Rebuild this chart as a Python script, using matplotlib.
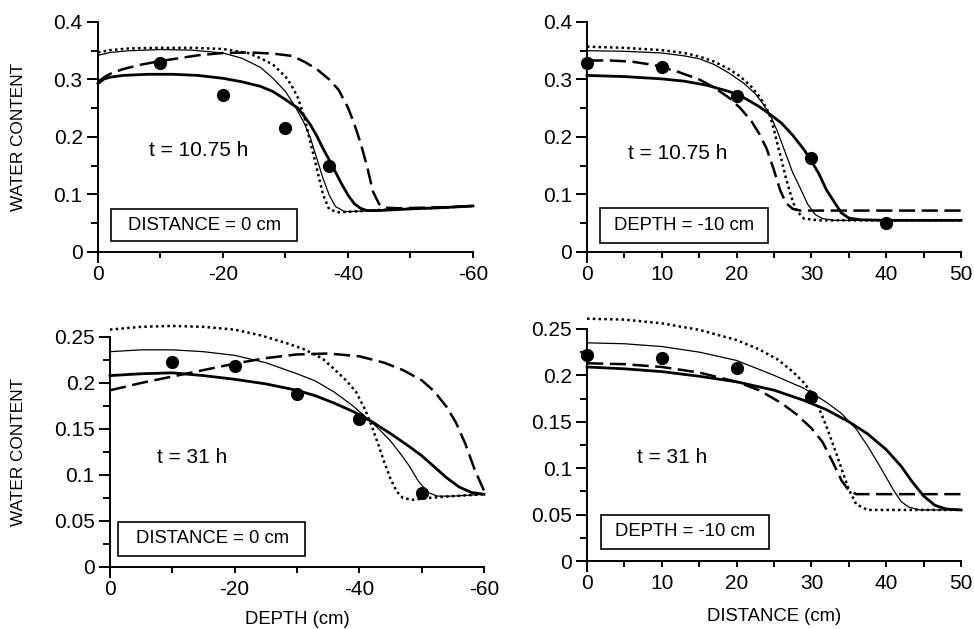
import matplotlib
matplotlib.use("Agg")
import matplotlib.pyplot as plt
from matplotlib.patches import Rectangle

plt.rcParams['font.family'] = ['Liberation Sans', 'DejaVu Sans']
plt.rcParams['axes.unicode_minus'] = False

# ---- top left: t = 10.75 h, DISTANCE = 0 cm (x = depth) ----
tl_obs_x = [-10, -20, -30, -37]
tl_obs_y = [0.328, 0.273, 0.215, 0.150]

tl_thick_x = [0, -1, -2, -4, -8, -12, -16, -20, -23, -26, -28, -30, -32, -33, -34, -35,
              -36, -37, -38, -39, -40, -41, -42, -43, -45, -50, -55, -60]
tl_thick_y = [0.293, 0.301, 0.304, 0.307, 0.309, 0.309, 0.307, 0.302, 0.296, 0.288, 0.279,
              0.265, 0.250, 0.236, 0.221, 0.202, 0.180, 0.160, 0.139, 0.118, 0.099, 0.084,
              0.076, 0.072, 0.072, 0.075, 0.077, 0.080]

tl_thin_x = [0, -2, -5, -10, -15, -20, -23, -26, -28, -30, -31.5, -33, -34, -35, -36, -37,
             -38, -39.5, -42, -45, -50, -55, -60]
tl_thin_y = [0.342, 0.347, 0.350, 0.352, 0.351, 0.346, 0.337, 0.321, 0.302, 0.279, 0.254,
             0.224, 0.198, 0.163, 0.128, 0.099, 0.079, 0.070, 0.071, 0.073, 0.075, 0.077, 0.080]

tl_dot_x = [0, -2, -5, -10, -15, -20, -24, -26, -28, -30, -31, -32, -33, -34, -35, -36, -37,
            -38.5, -42, -45, -50, -55, -60]
tl_dot_y = [0.347, 0.351, 0.354, 0.355, 0.355, 0.353, 0.346, 0.337, 0.326, 0.305, 0.289,
            0.268, 0.235, 0.190, 0.146, 0.100, 0.074, 0.069, 0.071, 0.073, 0.075, 0.077, 0.080]

tl_dash_x = [0, -1, -2, -4, -7, -10, -13, -16, -20, -24, -28, -31, -33, -35, -37, -38.5, -40,
             -41, -42, -43, -44, -45, -46, -48, -52, -56, -60]
tl_dash_y = [0.296, 0.304, 0.310, 0.318, 0.326, 0.332, 0.337, 0.342, 0.346, 0.347, 0.345,
             0.341, 0.331, 0.318, 0.300, 0.282, 0.251, 0.223, 0.190, 0.151, 0.105, 0.083,
             0.077, 0.076, 0.077, 0.078, 0.080]

# ---- top right: t = 10.75 h, DEPTH = -10 cm (x = distance) ----
tr_obs_x = [0, 10, 20, 30, 40]
tr_obs_y = [0.328, 0.321, 0.272, 0.163, 0.050]

tr_thick_x = [0, 5, 10, 13, 16, 19, 21, 23, 24.5, 26, 27.5, 29, 30, 31, 32, 33, 34, 35,
              36.5, 40, 45, 50]
tr_thick_y = [0.307, 0.305, 0.301, 0.297, 0.290, 0.279, 0.268, 0.253, 0.239, 0.224, 0.203,
              0.178, 0.158, 0.136, 0.108, 0.088, 0.068, 0.059, 0.056, 0.055, 0.055, 0.055]

tr_thin_x = [0, 5, 10, 13, 15, 17, 19, 21, 22.5, 23.5, 24.5, 25.5, 26.5, 27.5, 28.5, 29.5,
             30.5, 31.5, 33, 40, 50]
tr_thin_y = [0.350, 0.349, 0.346, 0.341, 0.336, 0.326, 0.311, 0.293, 0.275, 0.258, 0.238,
             0.208, 0.173, 0.138, 0.111, 0.083, 0.065, 0.058, 0.055, 0.055, 0.055]

tr_dot_x = [0, 5, 10, 13, 15, 17, 19, 20.5, 22, 23, 24, 24.5, 25, 25.5, 26, 26.5, 27, 27.5,
            28, 29, 31, 40, 50]
tr_dot_y = [0.357, 0.355, 0.351, 0.346, 0.340, 0.331, 0.318, 0.305, 0.287, 0.271, 0.250,
            0.235, 0.212, 0.185, 0.160, 0.133, 0.110, 0.088, 0.072, 0.058, 0.055, 0.055, 0.055]

tr_dash_x = [0, 3, 6, 9, 12, 15, 17, 19, 20.5, 22, 23, 24, 25, 25.8, 26.6, 27.5, 28.5, 35, 50]
tr_dash_y = [0.333, 0.333, 0.331, 0.325, 0.314, 0.300, 0.286, 0.268, 0.250, 0.227, 0.206,
             0.180, 0.142, 0.108, 0.085, 0.075, 0.072, 0.072, 0.072]

# ---- bottom left: t = 31 h, DISTANCE = 0 cm ----
bl_obs_x = [-10, -20, -30, -40, -50]
bl_obs_y = [0.2225, 0.218, 0.188, 0.161, 0.080]

bl_thick_x = [0, -5, -10, -15, -20, -25, -30, -33, -36, -39, -42, -45, -48, -50, -52, -54,
              -56, -58, -60]
bl_thick_y = [0.208, 0.210, 0.211, 0.208, 0.204, 0.199, 0.192, 0.186, 0.178, 0.169, 0.158,
              0.145, 0.131, 0.121, 0.109, 0.097, 0.087, 0.081, 0.079]

bl_thin_x = [0, -5, -10, -15, -20, -25, -30, -33, -36, -39, -41, -43, -45, -46.5, -48, -49.5,
             -51, -52.5, -55, -60]
bl_thin_y = [0.234, 0.236, 0.236, 0.234, 0.230, 0.222, 0.210, 0.202, 0.190, 0.175, 0.163,
             0.151, 0.137, 0.124, 0.110, 0.093, 0.081, 0.077, 0.077, 0.079]

bl_dot_x = [0, -5, -10, -15, -20, -24, -28, -31, -34, -36, -38, -39.5, -41, -42, -43, -44,
            -45, -46, -47, -48.5, -51, -55, -60]
bl_dot_y = [0.258, 0.261, 0.262, 0.261, 0.258, 0.252, 0.244, 0.237, 0.227, 0.215, 0.202,
            0.190, 0.170, 0.153, 0.134, 0.114, 0.096, 0.082, 0.075, 0.073, 0.075, 0.077, 0.079]

bl_dash_x = [0, -5, -10, -15, -20, -25, -30, -35, -40, -44, -47, -50, -52, -54, -55.5, -57,
             -58.5, -60]
bl_dash_y = [0.192, 0.200, 0.207, 0.214, 0.221, 0.227, 0.231, 0.232, 0.229, 0.222, 0.214,
             0.203, 0.191, 0.174, 0.157, 0.134, 0.106, 0.083]

# ---- bottom right: t = 31 h, DEPTH = -10 cm ----
br_obs_x = [0, 10, 20, 30]
br_obs_y = [0.222, 0.219, 0.2076, 0.177]

br_thick_x = [0, 5, 10, 15, 20, 25, 29, 32, 35, 37.5, 40, 42, 43.5, 45, 46.5, 48, 50]
br_thick_y = [0.209, 0.207, 0.204, 0.199, 0.193, 0.184, 0.173, 0.163, 0.150, 0.137, 0.120,
              0.102, 0.085, 0.070, 0.060, 0.056, 0.055]

br_thin_x = [0, 5, 10, 15, 20, 25, 29, 32, 34, 36, 37.5, 39, 40, 41, 42, 43, 44.5, 50]
br_thin_y = [0.235, 0.234, 0.231, 0.225, 0.216, 0.200, 0.186, 0.171, 0.159, 0.142, 0.124,
             0.104, 0.090, 0.076, 0.064, 0.058, 0.055, 0.055]

br_dot_x = [0, 5, 10, 15, 20, 23, 25.5, 27.5, 29, 30, 31, 32, 33, 34, 35, 36, 37.5, 40, 50]
br_dot_y = [0.261, 0.260, 0.256, 0.249, 0.238, 0.228, 0.217, 0.204, 0.192, 0.181, 0.165,
            0.145, 0.123, 0.100, 0.077, 0.061, 0.055, 0.055, 0.055]

br_dash_x = [0, 5, 10, 15, 20, 23, 26, 28, 30, 31.5, 33, 34, 35, 36, 40, 50]
br_dash_y = [0.213, 0.212, 0.209, 0.203, 0.193, 0.184, 0.170, 0.158, 0.143, 0.128, 0.104,
             0.087, 0.076, 0.072, 0.072, 0.072]

depth_ticks = [0, -10, -20, -30, -40, -50, -60]
depth_labels = ['0', '', '-20', '', '-40', '', '-60']
dist_ticks = [0, 5, 10, 15, 20, 25, 30, 35, 40, 45, 50]
dist_labels = ['0', '', '10', '', '20', '', '30', '', '40', '', '50']
top_yticks = [0, 0.1, 0.2, 0.3, 0.4]
top_ylabels = ['0', '0.1', '0.2', '0.3', '0.4']
bot_yticks = [0, 0.05, 0.1, 0.15, 0.2, 0.25]
bot_ylabels = ['0', '0.05', '0.1', '0.15', '0.2', '0.25']


def draw_panel(ax, obs, thick, thin, dot, dash):
    ax.plot(*thick, color='black', lw=2.0, clip_on=False)
    ax.plot(*thin, color='black', lw=0.9, clip_on=False)
    ax.plot(*dot, color='black', lw=1.8, linestyle=(0, (1, 1.3)), clip_on=False)
    ax.plot(*dash, color='black', lw=1.8, linestyle=(0, (6.5, 2.6)), clip_on=False)
    ax.plot(*obs, 'o', color='black', markersize=8.5, clip_on=False, zorder=5)


def style_axes(ax, xticks, xlabels, yticks, ylabels, yminor):
    for side in ['top', 'right']:
        ax.spines[side].set_visible(False)
    for side in ['left', 'bottom']:
        ax.spines[side].set_linewidth(1.4)
    ax.set_xticks(xticks, xlabels)
    ax.set_yticks(yticks, ylabels)
    ax.set_yticks(yminor, minor=True)
    ax.tick_params(axis='x', direction='out', length=4.3, width=1.4, pad=5, labelsize=15)
    ax.tick_params(axis='y', which='major', direction='out', length=8, width=1.4, pad=3,
                   labelsize=15)
    ax.tick_params(axis='y', which='minor', direction='out', length=5, width=1.4)
    ax.xaxis.get_major_ticks()[0].tick1line.set_markersize(8)


def label_box(ax, text, box, center):
    ax.add_patch(Rectangle((box[0], box[1]), box[2] - box[0], box[3] - box[1],
                           transform=ax.transAxes, fill=False, edgecolor='black', lw=1.2))
    ax.text(center[0], center[1], text, transform=ax.transAxes, ha='center', va='center',
            fontsize=13.3)


fig = plt.figure(figsize=(9.74, 6.29), dpi=100)
ax1 = fig.add_axes([0.1006, 0.5994, 0.385, 0.3657])
ax2 = fig.add_axes([0.6027, 0.5994, 0.384, 0.3657])
ax3 = fig.add_axes([0.1129, 0.0986, 0.384, 0.3657])
ax4 = fig.add_axes([0.6027, 0.1081, 0.384, 0.369])

draw_panel(ax1, (tl_obs_x, tl_obs_y), (tl_thick_x, tl_thick_y), (tl_thin_x, tl_thin_y),
           (tl_dot_x, tl_dot_y), (tl_dash_x, tl_dash_y))
draw_panel(ax2, (tr_obs_x, tr_obs_y), (tr_thick_x, tr_thick_y), (tr_thin_x, tr_thin_y),
           (tr_dot_x, tr_dot_y), (tr_dash_x, tr_dash_y))
draw_panel(ax3, (bl_obs_x, bl_obs_y), (bl_thick_x, bl_thick_y), (bl_thin_x, bl_thin_y),
           (bl_dot_x, bl_dot_y), (bl_dash_x, bl_dash_y))
draw_panel(ax4, (br_obs_x, br_obs_y), (br_thick_x, br_thick_y), (br_thin_x, br_thin_y),
           (br_dot_x, br_dot_y), (br_dash_x, br_dash_y))

for ax in (ax1, ax3):
    ax.set_xlim(0, -60)
for ax in (ax2, ax4):
    ax.set_xlim(0, 50)
for ax in (ax1, ax2):
    ax.set_ylim(0, 0.4)
for ax in (ax3, ax4):
    ax.set_ylim(0, 0.25)

style_axes(ax1, depth_ticks, depth_labels, top_yticks, top_ylabels, [0.05, 0.15, 0.25, 0.35])
style_axes(ax2, dist_ticks, dist_labels, top_yticks, top_ylabels, [0.05, 0.15, 0.25, 0.35])
style_axes(ax3, depth_ticks, depth_labels, bot_yticks, bot_ylabels,
           [0.025, 0.075, 0.125, 0.175, 0.225])
style_axes(ax4, dist_ticks, dist_labels, bot_yticks, bot_ylabels,
           [0.025, 0.075, 0.125, 0.175, 0.225])

ax1.text(0.269, 0.443, 't = 10.75 h', transform=ax1.transAxes, ha='center', va='center',
         fontsize=15)
ax2.text(0.243, 0.426, 't = 10.75 h', transform=ax2.transAxes, ha='center', va='center',
         fontsize=15)
ax3.text(0.219, 0.474, 't = 31 h', transform=ax3.transAxes, ha='center', va='center',
         fontsize=15)
ax4.text(0.227, 0.444, 't = 31 h', transform=ax4.transAxes, ha='center', va='center',
         fontsize=15)

label_box(ax1, 'DISTANCE = 0 cm', (0.035, 0.048, 0.531, 0.187), (0.283, 0.117))
label_box(ax2, 'DEPTH = -10 cm', (0.035, 0.039, 0.484, 0.191), (0.259, 0.113))
label_box(ax3, 'DISTANCE = 0 cm', (0.021, 0.048, 0.521, 0.196), (0.273, 0.122))
label_box(ax4, 'DEPTH = -10 cm', (0.037, 0.052, 0.487, 0.198), (0.262, 0.125))

ax1.set_ylabel('WATER CONTENT', fontsize=12.4)
ax3.set_ylabel('WATER CONTENT', fontsize=12.4)
ax1.yaxis.set_label_coords(-0.192, 0.5)
ax3.yaxis.set_label_coords(-0.225, 0.5)

ax3.set_xlabel('DEPTH (cm)', fontsize=13.3, labelpad=9)
ax4.set_xlabel('DISTANCE (cm)', fontsize=13.3, labelpad=11)

fig.savefig('out.png', dpi=100)
